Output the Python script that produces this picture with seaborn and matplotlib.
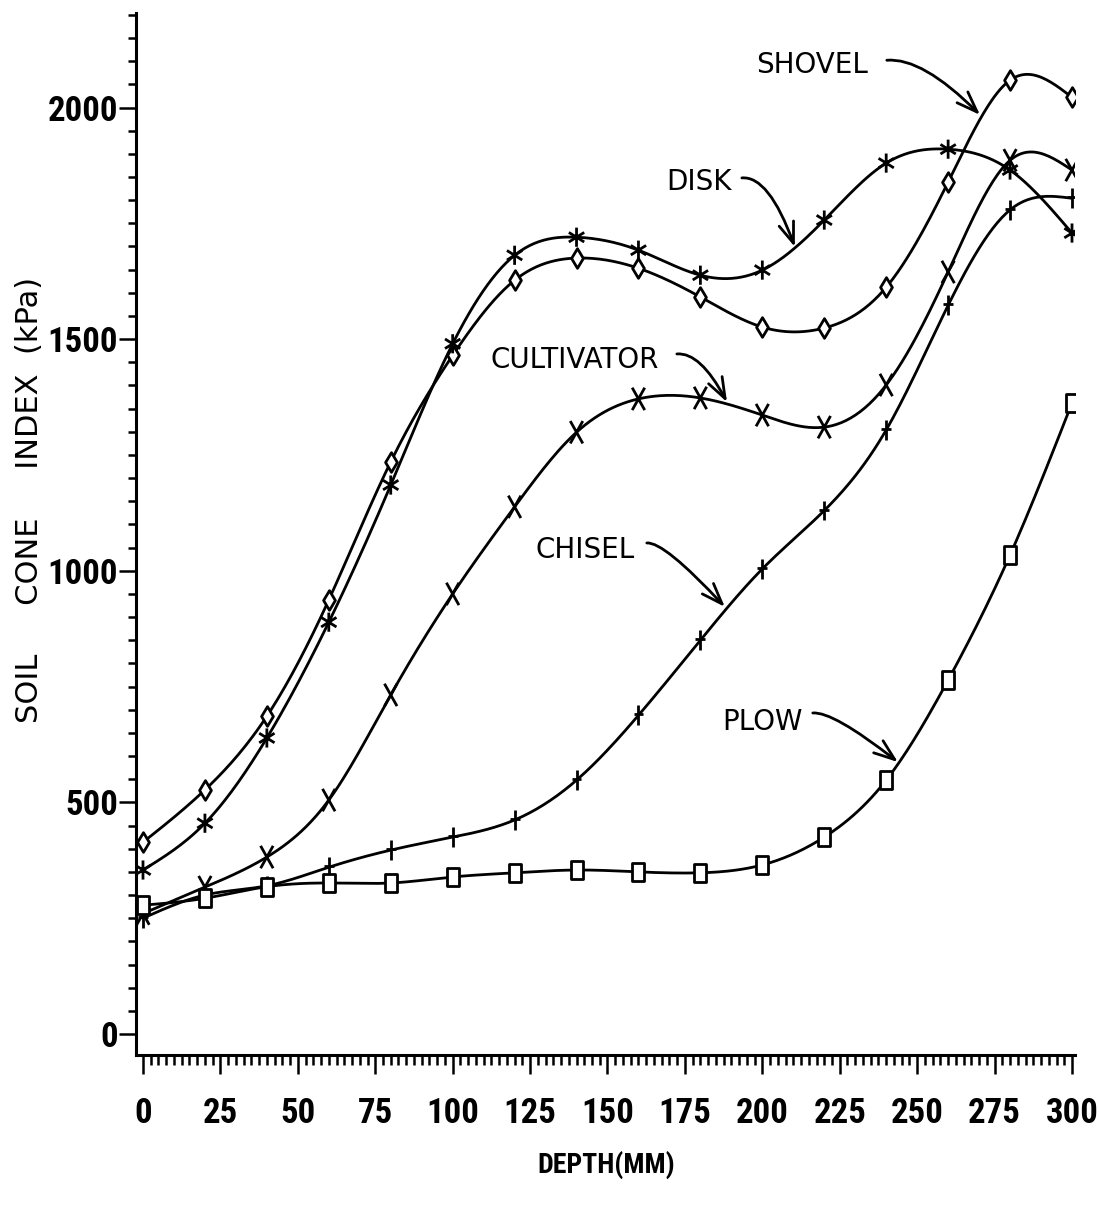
import numpy as np
import pandas as pd
import matplotlib.pyplot as plt
import seaborn as sns
from matplotlib.path import Path
from matplotlib.ticker import MultipleLocator

# values (kPa at each depth in mm)
depth = [0, 20, 40, 60, 80, 100, 120, 140, 160, 180, 200, 220, 240, 260, 280, 300]
shovel = [414, 527, 686, 937, 1235, 1465, 1627, 1675, 1653, 1591, 1526, 1524, 1612, 1839, 2059, 2022]
disk = [354, 455, 639, 889, 1185, 1490, 1681, 1720, 1692, 1638, 1649, 1757, 1880, 1910, 1865, 1729]
cultivator = [260, 317, 382, 505, 732, 950, 1138, 1299, 1371, 1373, 1336, 1310, 1401, 1645, 1886, 1865]
chisel = [250, 300, 320, 360, 397, 425, 462, 548, 688, 850, 1004, 1130, 1304, 1573, 1779, 1804]
plow = [278, 293, 318, 326, 326, 339, 348, 354, 350, 348, 365, 425, 548, 764, 1034, 1362]

x_ticks = list(range(0, 301, 25))
y_ticks = [0, 500, 1000, 1500, 2000]


def smooth(x, y, num=400):
    # natural cubic spline, only used to draw the curve between the points
    x = np.asarray(x, float)
    y = np.asarray(y, float)
    n = len(x)
    h = np.diff(x)
    A = np.zeros((n, n))
    r = np.zeros(n)
    A[0, 0] = A[-1, -1] = 1
    for i in range(1, n - 1):
        A[i, i - 1] = h[i - 1]
        A[i, i] = 2 * (h[i - 1] + h[i])
        A[i, i + 1] = h[i]
        r[i] = 6 * ((y[i + 1] - y[i]) / h[i] - (y[i] - y[i - 1]) / h[i - 1])
    M = np.linalg.solve(A, r)
    xs = np.linspace(x[0], x[-1], num)
    idx = np.clip(np.searchsorted(x, xs) - 1, 0, n - 2)
    t0, t1 = x[idx], x[idx + 1]
    hh = t1 - t0
    a = (t1 - xs) / hh
    b = (xs - t0) / hh
    ys = a * y[idx] + b * y[idx + 1] + ((a**3 - a) * M[idx] + (b**3 - b) * M[idx + 1]) * hh**2 / 6
    return xs, ys


def stroke_marker(segs):
    verts, codes = [], []
    for p, q in segs:
        verts += [p, q]
        codes += [Path.MOVETO, Path.LINETO]
    return Path(verts, codes)


m_diamond = Path([(0, -0.5), (0.3, 0), (0, 0.5), (-0.3, 0), (0, -0.5)], closed=True)
m_star = stroke_marker([((0, -0.5), (0, 0.5)), ((-0.4, -0.25), (0.4, 0.25)), ((-0.4, 0.25), (0.4, -0.25))])
m_x = stroke_marker([((-0.28, -0.5), (0.28, 0.5)), ((-0.28, 0.5), (0.28, -0.5))])
m_plus = stroke_marker([((0, -0.5), (0, 0.5)), ((-0.25, 0.05), (0.25, 0.05))])
m_box = Path([(-0.35, -0.5), (0.35, -0.5), (0.35, 0.5), (-0.35, 0.5), (-0.35, -0.5)], closed=True)

series = [
    (shovel, m_diamond, 200, "white"),
    (disk, m_star, 190, "none"),
    (cultivator, m_x, 260, "none"),
    (chisel, m_plus, 200, "none"),
    (plow, m_box, 170, "white"),
]

sns.set_style("ticks")
plt.rcParams['font.family'] = ['DejaVu Sans']
plt.rcParams['text.color'] = 'black'
plt.rcParams['xtick.color'] = 'black'
plt.rcParams['ytick.color'] = 'black'
plt.rcParams['axes.edgecolor'] = 'black'

narrow = ['Roboto Condensed', 'Roboto', 'DejaVu Sans']

fig = plt.figure(figsize=(11, 12.12), dpi=100)
ax = fig.add_axes([136 / 1100, 1 - 1055 / 1212, (1075 - 136) / 1100, (1055 - 13) / 1212])

for vals, mk, size, fc in series:
    xs, ys = smooth(depth, vals)
    sns.lineplot(x=xs, y=ys, color="black", lw=2.0, sort=False, estimator=None, ax=ax)
    sns.scatterplot(x=depth, y=vals, marker=mk, s=size, color="black", facecolor=fc,
                    edgecolor="black", linewidth=2.0, ax=ax, zorder=3)

ax.set_xlim(-2.26, 300.97)
ax.set_ylim(-45.3, 2204)
ax.set_xticks(x_ticks)
ax.set_yticks(y_ticks)
ax.xaxis.set_minor_locator(MultipleLocator(2.5))
ax.yaxis.set_minor_locator(MultipleLocator(50))
tick_font = dict(family=narrow, weight='bold', size=25)
ax.set_xticklabels([str(v) for v in x_ticks], fontdict=tick_font)
ax.set_yticklabels([str(v) for v in y_ticks], fontdict=tick_font)
ax.tick_params(axis='x', which='major', direction='out', length=14, width=1.8, pad=16)
ax.tick_params(axis='x', which='minor', direction='out', length=7, width=1.8)
ax.tick_params(axis='y', which='major', direction='out', length=12, width=1.8, pad=1)
ax.tick_params(axis='y', which='minor', direction='out', length=6, width=1.8)
for side in ['top', 'right']:
    ax.spines[side].set_visible(False)
for side in ['left', 'bottom']:
    ax.spines[side].set_linewidth(2.2)
ax.set_xlabel("")
ax.set_ylabel("")

fig.text(606 / 1100, 1 - 1165 / 1212, "DEPTH(MM)", ha='center', va='center',
         family=narrow, weight='bold', size=20)
fig.text(30 / 1100, 1 - 500 / 1212, "SOIL     CONE     INDEX  (kPa)", rotation=90,
         ha='center', va='center', size=22)

labels = [
    ("SHOVEL", 216.0, 2092, (240.2, 2102), (270.3, 1984), -45),
    ("DISK", 179.5, 1839, (193.4, 1848), (210.5, 1699), -70),
    ("CULTIVATOR", 139.5, 1455, (172.4, 1468), (188.6, 1364), -62),
    ("CHISEL", 142.7, 1045, (162.7, 1060), (187.9, 922), -47),
    ("PLOW", 200.0, 673, (216.3, 693), (243.8, 587), -38),
]
for name, tx, ty, start, end, ang in labels:
    ax.text(tx, ty, name, ha='center', va='center', size=20)
    ax.annotate("", xy=end, xytext=start,
                arrowprops=dict(arrowstyle="->,head_length=0.6,head_width=0.22", lw=2.0,
                                color="black", shrinkA=0, shrinkB=0, mutation_scale=25,
                                connectionstyle=f"angle3,angleA=5,angleB={ang}"))

fig.savefig("out.png", dpi=100, facecolor="white")
